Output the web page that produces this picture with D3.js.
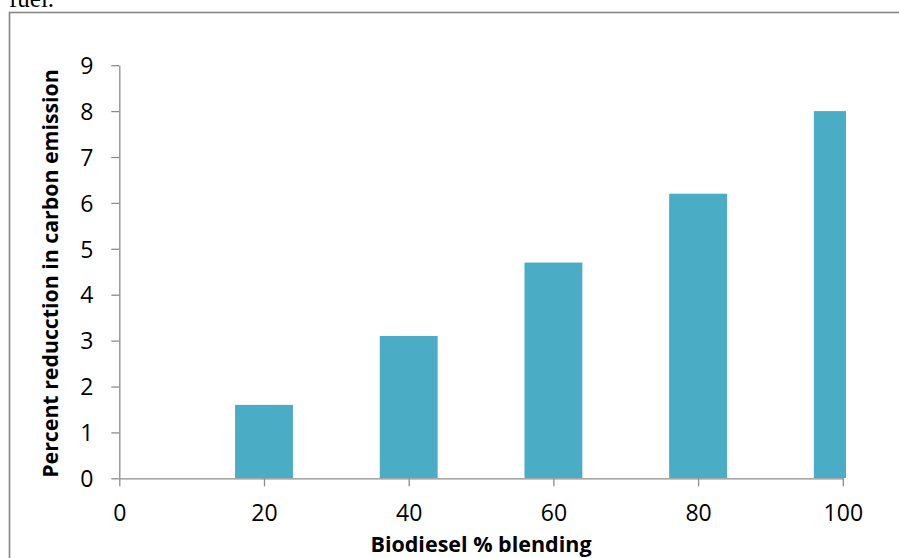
<!DOCTYPE html>
<html>
<head>
<meta charset="utf-8">
<script src="https://cdn.jsdelivr.net/npm/d3@7"></script>
<style>
html,body{margin:0;padding:0;background:#fff;}
svg{display:block;}
</style>
</head>
<body>
<svg id="chart" width="899" height="558"></svg>
<script>
const blending = [20, 40, 60, 80, 100];
const reduction = [1.6, 3.1, 4.7, 6.2, 8.0];
const xTicks = [0, 20, 40, 60, 80, 100];
const yTicks = [0, 1, 2, 3, 4, 5, 6, 7, 8, 9];
const xTitle = "Biodiesel % blending";
const yTitle = "Percent reducction in carbon emission";
const captionTail = "fuel.";

const svg = d3.select("#chart");
const font = "'Open Sans', 'DejaVu Sans', sans-serif";
const axisColor = "#8c8c8c";

// caption fragment and frame
svg.append("text").attr("x", 9).attr("y", 7)
  .attr("font-family", "'Liberation Serif', serif").attr("font-size", 25)
  .attr("fill", "#000").text(captionTail);
svg.append("rect").attr("x", 9.5).attr("y", 12.5).attr("width", 900).attr("height", 560)
  .attr("fill", "none").attr("stroke", "#888").attr("stroke-width", 1.6);

const x = d3.scaleLinear().domain([0, 100]).range([119.3, 842.8]);
const y = d3.scaleLinear().domain([0, 9]).range([478.3, 65.2]);
const barW = x(8) - x(0);

svg.append("defs").append("clipPath").attr("id", "plotclip")
  .append("rect").attr("x", x(0)).attr("y", y(9) - 5)
  .attr("width", x(100) + 3.2 - x(0)).attr("height", y(0) - y(9) + 5);

svg.append("g").attr("clip-path", "url(#plotclip)")
  .selectAll("rect").data(blending).join("rect")
  .attr("x", (d) => x(d) - barW / 2)
  .attr("y", (d, i) => y(reduction[i]))
  .attr("width", barW)
  .attr("height", (d, i) => y(0) - y(reduction[i]))
  .attr("fill", "#4BACC6");

const xAxis = svg.append("g").attr("transform", `translate(0,${y(0)})`)
  .call(d3.axisBottom(x).tickValues(xTicks).tickSize(8).tickPadding(18).tickSizeOuter(0));
const yAxis = svg.append("g").attr("transform", `translate(${x(0)},0)`)
  .call(d3.axisLeft(y).tickValues(yTicks).tickSize(8).tickPadding(18).tickSizeOuter(0));
[xAxis, yAxis].forEach(g => {
  g.select(".domain").attr("stroke", axisColor).attr("stroke-width", 1.3);
  g.selectAll(".tick line").attr("stroke", axisColor).attr("stroke-width", 1.3);
  g.selectAll(".tick text").attr("font-family", font).attr("font-size", 23).attr("fill", "#000");
});
yAxis.selectAll(".tick text").attr("dy", "0.36em");

svg.append("text").attr("x", 481).attr("y", 552)
  .attr("text-anchor", "middle").attr("font-family", font)
  .attr("font-weight", "bold").attr("font-size", 21.5).attr("fill", "#000")
  .text(xTitle);
svg.append("text").attr("transform", `translate(58,273.5) rotate(-90)`)
  .attr("text-anchor", "middle").attr("font-family", font)
  .attr("font-weight", "bold").attr("font-size", 21.3).attr("fill", "#000")
  .text(yTitle);
</script>
</body>
</html>
